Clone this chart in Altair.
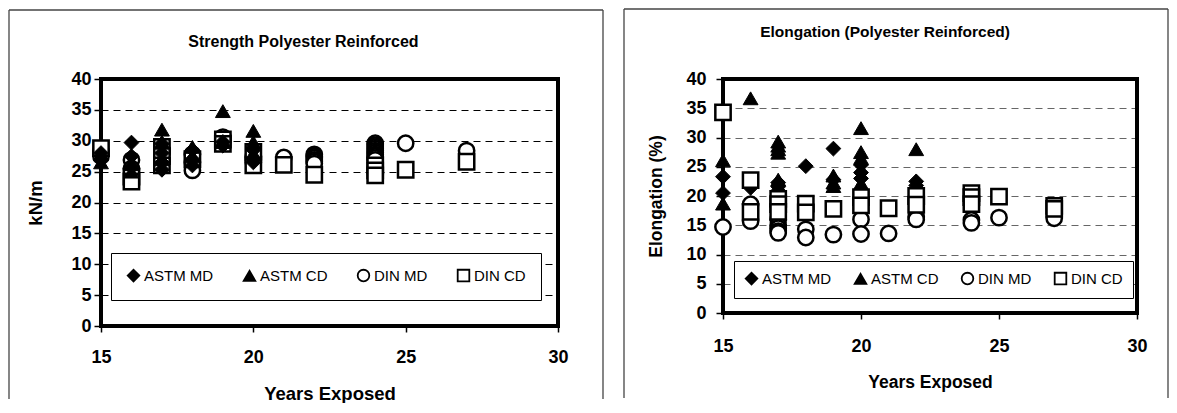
import altair as alt
import pandas as pd

SERIES = ["ASTM MD", "ASTM CD", "DIN MD", "DIN CD"]
SHAPES = ["diamond", "triangle-up", "circle", "square"]
FILLS = ["black", "black", "white", "white"]
STROKE_COLORS = ["black", "black", "black", "black"]

# ---- Strength Polyester Reinforced (kN/m) ----
s_astm_md_x = [15, 15, 16, 16, 16, 17, 17, 17, 17, 18, 18, 18, 19, 19, 20, 20, 20]
s_astm_md_y = [27.0, 28.0, 29.7, 27.5, 25.8, 25.3, 26.5, 28.0, 29.5, 28.5, 27.0, 26.0, 29.2, 29.8, 27.0, 28.5, 26.5]
s_astm_cd_x = [15, 15, 16, 16, 17, 17, 17, 18, 18, 19, 19, 20, 20, 20]
s_astm_cd_y = [26.5, 27.8, 25.0, 26.2, 31.8, 29.8, 27.0, 29.0, 27.5, 34.8, 29.8, 31.6, 29.8, 28.0]
s_din_md_x = [15, 15, 16, 16, 17, 17, 18, 18, 18, 19, 19, 20, 20, 21,
              22, 22, 22, 22, 22, 22,
              24, 24, 24, 24, 24, 24, 24, 24, 24, 24, 25, 27]
s_din_md_y = [28.3, 27.5, 26.9, 25.5, 28.5, 26.8, 27.8, 26.5, 25.2, 30.6, 30.0, 27.5, 26.5, 27.3,
              27.8, 27.5, 27.2, 26.9, 26.6, 26.3,
              29.6, 29.3, 29.0, 28.7, 28.4, 28.1, 27.8, 27.5, 27.2, 26.9, 29.6, 28.4]
s_din_cd_x = [15, 16, 16, 17, 17, 17, 18, 19, 19, 20, 20, 21, 22, 24, 24, 24, 25, 27]
s_din_cd_y = [28.8, 24.2, 23.4, 29.0, 27.5, 26.0, 27.0, 30.2, 29.5, 28.2, 26.0, 26.1, 24.5,
              26.0, 25.2, 24.4, 25.3, 26.6]

# ---- Elongation (Polyester Reinforced) (%) ----
e_astm_md_x = [15, 15, 16, 17, 17, 17, 17, 18, 19, 19, 20, 20, 20, 22, 22]
e_astm_md_y = [23.3, 20.5, 21.4, 22.3, 21.6, 20.9, 20.3, 25.1, 28.1, 22.8, 25.3, 24.0, 23.0, 22.5, 21.8]
e_astm_cd_x = [15, 15, 16, 17, 17, 17, 17, 17, 17, 19, 19, 19, 20, 20, 20, 20, 22]
e_astm_cd_y = [26.1, 18.7, 36.7, 29.3, 28.6, 28.0, 27.4, 22.8, 21.5, 23.5, 22.3, 21.7,
               31.6, 27.5, 26.5, 22.2, 28.0]
e_din_md_x = [15, 16, 16, 17, 17, 17, 17, 17, 18, 18, 19, 20, 20, 21, 22, 22, 24, 24, 25, 27]
e_din_md_y = [14.7, 18.6, 15.7, 16.0, 15.0, 14.5, 14.0, 13.7, 14.3, 12.9, 13.4, 16.0, 13.5, 13.6,
              16.4, 16.0, 15.9, 15.4, 16.3, 16.2]
e_din_cd_x = [15, 16, 16, 17, 17, 17, 18, 18, 19, 20, 20, 21, 22, 22, 24, 24, 24, 25, 27, 27]
e_din_cd_y = [34.3, 22.7, 17.3, 19.5, 18.6, 17.3, 18.7, 17.2, 17.8, 19.8, 18.4, 17.9, 20.0, 18.5,
              20.5, 19.8, 18.6, 19.9, 18.3, 17.8]

FONT = "Liberation Sans"


def frame_df(series_list):
    rows = []
    for name, xs, ys in series_list:
        for x, y in zip(xs, ys):
            rows.append({"year": x, "value": y, "series": name})
    return pd.DataFrame(rows)


def panel(astm_df, din_df, din_on_top, title, ytitle, w, h, box, grid_color, legend_xy,
          legend_pad, legend_colpad, title_offset, title_dx, ytick_pad, ytitle_pad,
          xlabel_pad, xtitle_pad, fs):
    one = pd.DataFrame({"k": [0]})
    bl, br, bt, bb = box
    outer_left = alt.Chart(one).mark_rule(color="#444444", strokeWidth=1.3).encode(
        x=alt.value(bl), y=alt.value(bt), y2=alt.value(bb))
    outer_right = alt.Chart(one).mark_rule(color="#444444", strokeWidth=1.3).encode(
        x=alt.value(br), y=alt.value(bt), y2=alt.value(bb))
    outer_top = alt.Chart(one).mark_rule(color="#444444", strokeWidth=1.3).encode(
        x=alt.value(bl), x2=alt.value(br), y=alt.value(bt))
    frame = alt.Chart(one).mark_rect(fillOpacity=0, stroke="black", strokeWidth=4).encode(
        x=alt.value(0), x2=alt.value(w), y=alt.value(0), y2=alt.value(h))

    leg = alt.Legend(
        title=None, orient="none", legendX=legend_xy[0], legendY=legend_xy[1],
        direction="horizontal", fillColor="white", strokeColor="black",
        padding=legend_pad, columnPadding=legend_colpad, labelFont=FONT,
        labelFontSize=fs["legend"], labelColor="black", labelOffset=3, symbolSize=135,
        symbolStrokeColor="black", symbolStrokeWidth=1.8, zindex=1,
    )
    xenc = alt.X("year:Q", scale=alt.Scale(domain=[15, 30], nice=False, zero=False),
                 axis=alt.Axis(values=[15, 20, 25, 30], grid=False, domain=False,
                               tickSize=6, tickColor="black", tickWidth=1.5,
                               labelFont=FONT, labelFontSize=fs["tick"], labelFontWeight="bold",
                               labelColor="black", labelPadding=xlabel_pad, labelFlush=False,
                               title="Years Exposed", titleFont=FONT, titleFontSize=fs["axis"],
                               titleFontWeight="bold", titleColor="black",
                               titlePadding=xtitle_pad))
    yenc = alt.Y("value:Q", scale=alt.Scale(domain=[0, 40], nice=False),
                 axis=alt.Axis(values=list(range(0, 41, 5)), grid=True, gridDash=[7, 5],
                               gridColor=grid_color, gridWidth=1.2, domain=False,
                               tickSize=7, tickColor="black", tickWidth=1.5,
                               labelFont=FONT, labelFontSize=fs["tick"], labelFontWeight="bold",
                               labelColor="black", labelPadding=ytick_pad, labelFlush=False,
                               title=ytitle, titleFont=FONT, titleFontSize=fs["axis"],
                               titleFontWeight="bold", titleColor="black",
                               titlePadding=ytitle_pad))
    shape = alt.Shape("series:N", scale=alt.Scale(domain=SERIES, range=SHAPES), legend=leg)
    fill = alt.Fill("series:N", scale=alt.Scale(domain=SERIES, range=FILLS), legend=leg)
    stroke = alt.Stroke("series:N", scale=alt.Scale(domain=SERIES, range=STROKE_COLORS),
                        legend=leg)

    astm = alt.Chart(astm_df).mark_point(filled=True, opacity=1, strokeWidth=1,
                                         size=220).encode(
        x=xenc, y=yenc, shape=shape, fill=fill, stroke=stroke)
    din = alt.Chart(din_df).mark_point(filled=True, opacity=1, strokeWidth=2.5,
                                       size=235).encode(
        x=xenc, y=yenc, shape=shape, fill=fill, stroke=stroke)
    pts = [astm, din] if din_on_top else [din, astm]
    return alt.layer(outer_left, outer_right, outer_top, frame, *pts).properties(
        width=w, height=h,
        title=alt.Title(title, font=FONT, fontSize=fs["title"], fontWeight="bold",
                        color="black", anchor="middle", offset=title_offset, dx=title_dx),
    )


s_astm = frame_df([("ASTM MD", s_astm_md_x, s_astm_md_y), ("ASTM CD", s_astm_cd_x, s_astm_cd_y)])
s_din = frame_df([("DIN MD", s_din_md_x, s_din_md_y), ("DIN CD", s_din_cd_x, s_din_cd_y)])
e_astm = frame_df([("ASTM MD", e_astm_md_x, e_astm_md_y), ("ASTM CD", e_astm_cd_x, e_astm_cd_y)])
e_din = frame_df([("DIN MD", e_din_md_x, e_din_md_y), ("DIN CD", e_din_cd_x, e_din_cd_y)])

FS_LEFT = {"title": 16, "axis": 18.5, "tick": 18, "legend": 15}
FS_RIGHT = {"title": 15.5, "axis": 17.5, "tick": 18, "legend": 15}

left = panel(s_astm, s_din, False, "Strength Polyester Reinforced", "kN/m", 457, 247,
             (-92, 502, -69, 320), "black", (10, 174), 15, 26,
             -41, -26, 3, 25, 16, 18, FS_LEFT)
right = panel(e_astm, e_din, True, "Elongation (Polyester Reinforced)", "Elongation (%)",
              414, 234, (-99, 445, -70, 319), "#666666", (11, 182), 10, 19,
              -32, -45, 10, 20, 18, 18, FS_RIGHT)

chart = alt.hconcat(left, right, spacing=19).resolve_scale(
    shape="independent", fill="independent", stroke="independent"
).resolve_legend(shape="independent", fill="independent", stroke="independent").properties(
    padding={"left": 0, "top": 0, "right": 0, "bottom": 0}, background="white"
).configure_view(stroke=None)

chart.save("out.html", embed_options={"renderer": "svg", "actions": False})
